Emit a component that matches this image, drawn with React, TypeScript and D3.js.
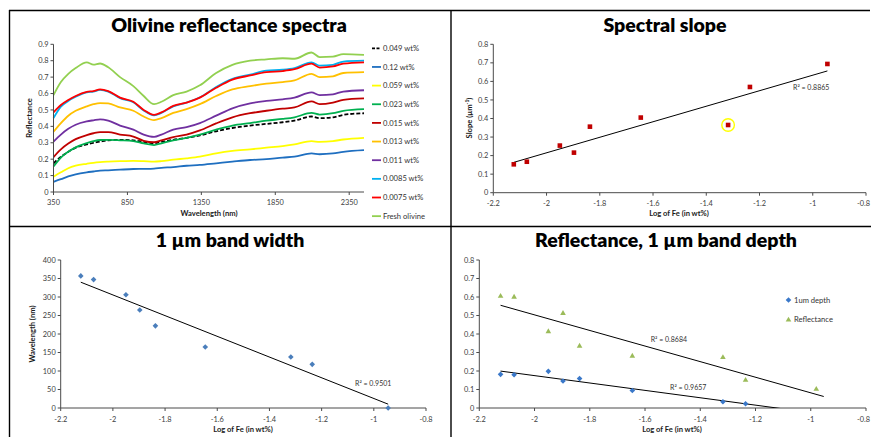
import React from 'react';
import * as d3 from 'd3';

const FONT = "Lato, 'Open Sans', 'Liberation Sans', sans-serif";
const AXIS = '#4a4a4a';
const TICKTXT = '#404040';

// ---------------- Panel 1: spectra ----------------
const wavelengths = [350, 400, 450, 500, 575, 620, 665, 720, 800, 890, 960, 1030, 1080, 1160, 1250, 1340, 1450, 1560, 1680, 1790, 1900, 1980, 2095, 2150, 2240, 2310, 2450];
const fe049 = [0.175, 0.215, 0.245, 0.27, 0.29, 0.3, 0.307, 0.315, 0.318, 0.315, 0.305, 0.297, 0.305, 0.318, 0.33, 0.345, 0.37, 0.39, 0.405, 0.415, 0.425, 0.435, 0.46, 0.45, 0.455, 0.47, 0.48];
const fe12 = [0.062, 0.078, 0.095, 0.108, 0.12, 0.125, 0.13, 0.132, 0.136, 0.14, 0.141, 0.143, 0.147, 0.152, 0.16, 0.165, 0.175, 0.185, 0.195, 0.2, 0.21, 0.215, 0.235, 0.23, 0.235, 0.245, 0.255];
const fe059 = [0.093, 0.12, 0.145, 0.16, 0.172, 0.178, 0.182, 0.185, 0.188, 0.19, 0.188, 0.185, 0.188, 0.197, 0.205, 0.215, 0.235, 0.25, 0.26, 0.27, 0.28, 0.29, 0.31, 0.305, 0.31, 0.32, 0.33];
const fe023 = [0.155, 0.21, 0.245, 0.272, 0.298, 0.31, 0.317, 0.318, 0.315, 0.31, 0.296, 0.286, 0.297, 0.315, 0.33, 0.35, 0.38, 0.405, 0.42, 0.435, 0.445, 0.455, 0.482, 0.472, 0.48, 0.495, 0.505];
const fe015 = [0.213, 0.26, 0.295, 0.322, 0.347, 0.358, 0.365, 0.365, 0.35, 0.338, 0.312, 0.303, 0.315, 0.335, 0.35, 0.375, 0.418, 0.455, 0.48, 0.495, 0.508, 0.515, 0.552, 0.535, 0.545, 0.562, 0.57];
const fe013 = [0.367, 0.42, 0.465, 0.495, 0.522, 0.535, 0.542, 0.54, 0.515, 0.495, 0.46, 0.438, 0.45, 0.482, 0.505, 0.535, 0.585, 0.625, 0.645, 0.66, 0.67, 0.68, 0.72, 0.7, 0.705, 0.725, 0.73];
const fe011 = [0.307, 0.35, 0.385, 0.41, 0.43, 0.437, 0.443, 0.435, 0.405, 0.38, 0.35, 0.336, 0.35, 0.38, 0.395, 0.42, 0.465, 0.51, 0.54, 0.555, 0.565, 0.575, 0.607, 0.59, 0.595, 0.612, 0.62];
const fe0085 = [0.45, 0.52, 0.555, 0.58, 0.607, 0.612, 0.622, 0.612, 0.572, 0.547, 0.497, 0.467, 0.482, 0.522, 0.545, 0.577, 0.64, 0.69, 0.715, 0.74, 0.745, 0.755, 0.79, 0.77, 0.775, 0.795, 0.8];
const fe0075 = [0.485, 0.53, 0.56, 0.585, 0.61, 0.615, 0.625, 0.615, 0.575, 0.55, 0.5, 0.47, 0.485, 0.525, 0.545, 0.575, 0.635, 0.685, 0.71, 0.73, 0.737, 0.748, 0.782, 0.758, 0.765, 0.782, 0.79];
const freshOlivine = [0.59, 0.67, 0.72, 0.755, 0.79, 0.776, 0.783, 0.76, 0.7, 0.645, 0.585, 0.535, 0.55, 0.59, 0.612, 0.65, 0.725, 0.775, 0.8, 0.808, 0.815, 0.812, 0.85, 0.822, 0.825, 0.84, 0.835];

const legendLabels = ['0.049 wt%', '0.12 wt%', '0.059 wt%', '0.023 wt%', '0.015 wt%', '0.013 wt%', '0.011 wt%', '0.0085 wt%', '0.0075 wt%', 'Fresh olivine'];
const spectraSeries = [fe049, fe12, fe059, fe023, fe015, fe013, fe011, fe0085, fe0075, freshOlivine];
const spectraColors = ['#000000', '#1f6fc0', '#ffff00', '#00b050', '#c00000', '#ffc000', '#7030a0', '#00b0f0', '#ff0000', '#92d050'];
const spectraDash = ['4,2', null, null, null, null, null, null, null, null, null];

const wlTicks = [350, 850, 1350, 1850, 2350];
const reflTicks = [0, 0.1, 0.2, 0.3, 0.4, 0.5, 0.6, 0.7, 0.8, 0.9];

// ---------------- Scatter data ----------------
const logFe = [-2.123, -2.074, -1.95, -1.897, -1.837, -1.646, -1.318, -1.236, -0.945];
const slopeValues = [0.153, 0.167, 0.254, 0.216, 0.356, 0.405, 0.365, 0.57, 0.694];
const bandWidthValues = [357, 347, 306, 265, 222, 165, 138, 118, 0];
const depthLogFe = [-2.123, -2.074, -1.95, -1.897, -1.837, -1.646, -1.318, -1.236];
const depthValues = [0.182, 0.18, 0.198, 0.146, 0.159, 0.095, 0.034, 0.023];
const reflLogFe = [-2.123, -2.074, -1.95, -1.897, -1.837, -1.646, -1.318, -1.236, -0.98];
const reflectanceValues = [0.607, 0.602, 0.416, 0.514, 0.337, 0.283, 0.276, 0.153, 0.104];

const logFeTicks = [-2.2, -2, -1.8, -1.6, -1.4, -1.2, -1, -0.8];
const slopeTicks = [0, 0.1, 0.2, 0.3, 0.4, 0.5, 0.6, 0.7, 0.8];
const widthTicks = [0, 50, 100, 150, 200, 250, 300, 350, 400];
const depthTicks = [0, 0.1, 0.2, 0.3, 0.4, 0.5, 0.6, 0.7, 0.8];

const r2Slope = 'R² = 0.8865';
const r2Width = 'R² = 0.9501';
const r2Refl = 'R² = 0.8684';
const r2Depth = 'R² = 0.9657';

const fmt = (v: number) => `${+v.toFixed(1)}`;
const fmtInt = (v: number) => `${v}`;

function linReg(xs: number[], ys: number[]) {
  const mx = d3.mean(xs) as number;
  const my = d3.mean(ys) as number;
  let sxy = 0, sxx = 0;
  xs.forEach((x, i) => { sxy += (x - mx) * (ys[i] - my); sxx += (x - mx) * (x - mx); });
  const b = sxy / sxx;
  return (x: number) => my + b * (x - mx);
}

const RIGHT_LIMIT = 870;

function Axes({ x, y, xTicks, yTicks, fmtX, fmtY, xLabelY }: any) {
  const [x0, x1] = x.range();
  const [y0, y1] = y.range();
  return (
    <g fontFamily={FONT} fontSize={7.4} fill={TICKTXT}>
      <line x1={x0} x2={x1} y1={y0} y2={y0} stroke={AXIS} strokeWidth={1} />
      <line x1={x0} x2={x0} y1={y0} y2={y1} stroke={AXIS} strokeWidth={1} />
      {yTicks.map((t: number) => (
        <g key={'y' + t}>
          <line x1={x0 - 3} x2={x0} y1={y(t)} y2={y(t)} stroke={AXIS} strokeWidth={1} />
          <text x={x0 - 5} y={y(t) + 2.6} textAnchor="end">{fmtY(t)}</text>
        </g>
      ))}
      {xTicks.map((t: number) => {
        const px = x(t);
        const nearEdge = px + 7 > RIGHT_LIMIT;
        return (
          <g key={'x' + t}>
            <line x1={px} x2={px} y1={y0} y2={y0 + 3} stroke={AXIS} strokeWidth={1} />
            <text x={nearEdge ? RIGHT_LIMIT : px} y={xLabelY} textAnchor={nearEdge ? 'end' : 'middle'}>{fmtX(t)}</text>
          </g>
        );
      })}
    </g>
  );
}

function Title({ x, y, text }: any) {
  return <text x={x} y={y} textAnchor="middle" fontFamily={FONT} fontWeight={800} fontSize={19.5} fill="#000">{text}</text>;
}

function AxisTitle({ x, y, rotate, children }: any) {
  return (
    <text transform={`translate(${x},${y})${rotate ? ' rotate(-90)' : ''}`} textAnchor="middle" fontFamily={FONT} fontWeight="bold" fontSize={7.6} fill="#1a1a1a">{children}</text>
  );
}

const diamond = (cx: number, cy: number, r = 2.8) => `M${cx},${cy - r}L${cx + r},${cy}L${cx},${cy + r}L${cx - r},${cy}Z`;
const triangle = (cx: number, cy: number, r = 2.8) => `M${cx},${cy - r}L${cx + r},${cy + r * 0.75}L${cx - r},${cy + r * 0.75}Z`;

function SpectraPanel() {
  const x = d3.scaleLinear().domain([350, 2450]).range([53.5, 364]);
  const y = d3.scaleLinear().domain([0, 0.9]).range([192, 44.3]);
  const line = d3.line<number>().x((_, i) => x(wavelengths[i])).y(d => y(d)).curve(d3.curveMonotoneX);
  return (
    <g>
      <Title x={229} y={31.5} text="Olivine reflectance spectra" />
      {spectraSeries.map((s, i) => (
        <path key={i} d={line(s) || ''} fill="none" stroke={spectraColors[i]} strokeWidth={1.8} strokeDasharray={spectraDash[i] || undefined} />
      ))}
      <Axes x={x} y={y} xTicks={wlTicks} yTicks={reflTicks} fmtX={fmtInt} fmtY={fmt} xLabelY={204.5} />
      <AxisTitle x={31.5} y={118} rotate>Reflectance</AxisTitle>
      <AxisTitle x={209} y={216}>Wavelength (nm)</AxisTitle>
      <g fontFamily={FONT} fontSize={7.6} fill="#333">
        {legendLabels.map((l, i) => {
          const ly = 48.3 + i * 18.65;
          return (
            <g key={l}>
              <line x1={372} x2={381} y1={ly} y2={ly} stroke={spectraColors[i]} strokeWidth={1.8} strokeDasharray={spectraDash[i] ? '3,1.5' : undefined} />
              <text x={383} y={ly + 2.6}>{l}</text>
            </g>
          );
        })}
      </g>
    </g>
  );
}

function SlopePanel() {
  const x = d3.scaleLinear().domain([-2.2, -0.8]).range([493.3, 866]);
  const y = d3.scaleLinear().domain([0, 0.8]).range([192.7, 44.3]);
  const f = linReg(logFe, slopeValues);
  const [xa, xb] = d3.extent(logFe) as [number, number];
  return (
    <g>
      <Title x={665} y={31.5} text="Spectral slope" />
      <Axes x={x} y={y} xTicks={logFeTicks} yTicks={slopeTicks} fmtX={fmt} fmtY={fmt} xLabelY={205.5} />
      <line x1={x(xa)} y1={y(f(xa))} x2={x(xb)} y2={y(f(xb))} stroke="#000" strokeWidth={1} />
      {logFe.map((v, i) => (
        <rect key={i} x={x(v) - 2.3} y={y(slopeValues[i]) - 2.3} width={4.6} height={4.6} fill="#c00000" />
      ))}
      <circle cx={x(logFe[6])} cy={y(slopeValues[6])} r={6.3} fill="none" stroke="#ffff00" strokeWidth={1.4} />
      <text x={793} y={90} fontFamily={FONT} fontSize={7} fill="#333">{r2Slope}</text>
      <AxisTitle x={471.5} y={118} rotate>Slope (µm<tspan baselineShift="super" fontSize={5}>-1</tspan>)</AxisTitle>
      <AxisTitle x={679} y={216}>Log of Fe (in wt%)</AxisTitle>
    </g>
  );
}

function WidthPanel() {
  const x = d3.scaleLinear().domain([-2.2, -0.8]).range([60.7, 426]);
  const y = d3.scaleLinear().domain([0, 400]).range([408, 260]);
  const f = linReg(logFe, bandWidthValues);
  const [xa, xb] = d3.extent(logFe) as [number, number];
  return (
    <g>
      <Title x={230} y={247} text="1 µm band width" />
      <Axes x={x} y={y} xTicks={logFeTicks} yTicks={widthTicks} fmtX={fmt} fmtY={fmtInt} xLabelY={421.5} />
      <line x1={x(xa)} y1={y(f(xa))} x2={x(xb)} y2={y(f(xb))} stroke="#000" strokeWidth={1} />
      {logFe.map((v, i) => (
        <path key={i} d={diamond(x(v), y(bandWidthValues[i]))} fill="#4a7ebb" />
      ))}
      <text x={355} y={385.7} fontFamily={FONT} fontSize={7} fill="#333">{r2Width}</text>
      <AxisTitle x={35} y={334} rotate>Wavelength (nm)</AxisTitle>
      <AxisTitle x={243} y={431.5}>Log of Fe (in wt%)</AxisTitle>
    </g>
  );
}

function DepthPanel() {
  const x = d3.scaleLinear().domain([-2.2, -0.8]).range([479.3, 866]);
  const y = d3.scaleLinear().domain([0, 0.8]).range([408, 260]);
  const fd = linReg(depthLogFe, depthValues);
  const fr = linReg(reflLogFe, reflectanceValues);
  const [xa, xb] = d3.extent(logFe) as [number, number];
  const xbR = -0.953;
  return (
    <g>
      <Title x={666} y={247} text="Reflectance, 1 µm band depth" />
      <defs>
        <clipPath id="clip4">
          <rect x={479.3} y={255} width={390} height={153} />
        </clipPath>
      </defs>
      <Axes x={x} y={y} xTicks={logFeTicks} yTicks={depthTicks} fmtX={fmt} fmtY={fmt} xLabelY={421.5} />
      <g clipPath="url(#clip4)">
        <line x1={x(xa)} y1={y(fd(xa))} x2={x(xb)} y2={y(fd(xb))} stroke="#000" strokeWidth={1} />
        <line x1={x(xa)} y1={y(fr(xa))} x2={x(xbR)} y2={y(fr(xbR))} stroke="#000" strokeWidth={1} />
      </g>
      {depthLogFe.map((v, i) => (
        <path key={'d' + i} d={diamond(x(v), y(depthValues[i]))} fill="#3a78c9" />
      ))}
      {reflLogFe.map((v, i) => (
        <path key={'r' + i} d={triangle(x(v), y(reflectanceValues[i]))} fill="#9bbb59" />
      ))}
      <text x={650.7} y={342.3} fontFamily={FONT} fontSize={7} fill="#333">{r2Refl}</text>
      <text x={670} y={390} fontFamily={FONT} fontSize={7} fill="#333">{r2Depth}</text>
      <g fontFamily={FONT} fontSize={7.6} fill="#333">
        <path d={diamond(788.5, 300)} fill="#3a78c9" />
        <text x={794} y={302.6}>1um depth</text>
        <path d={triangle(788.5, 319.5)} fill="#9bbb59" />
        <text x={794} y={322.3}>Reflectance</text>
      </g>
      <AxisTitle x={672} y={431.5}>Log of Fe (in wt%)</AxisTitle>
    </g>
  );
}

export default function App() {
  return (
    <svg width={871} height={437} style={{ position: 'absolute', left: 0, top: 0, background: '#fff' }}>
      <rect width={871} height={437} fill="#fff" />
      <SpectraPanel />
      <SlopePanel />
      <WidthPanel />
      <DepthPanel />
      <g stroke="#000" strokeWidth={1.4}>
        <line x1={9} x2={870} y1={10.5} y2={10.5} />
        <line x1={9.5} x2={9.5} y1={10} y2={437} />
        <line x1={451} x2={451} y1={10} y2={437} />
        <line x1={9} x2={871} y1={226.5} y2={226.5} />
      </g>
    </svg>
  );
}
